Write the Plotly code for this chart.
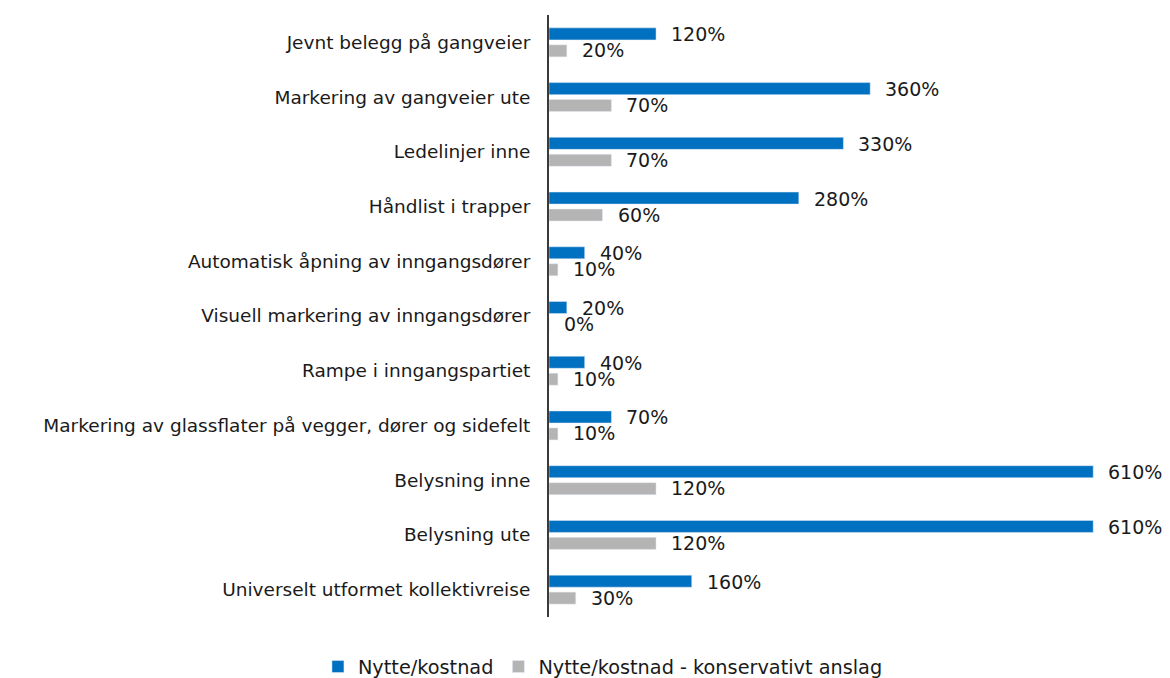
import plotly.graph_objects as go

categories = [
    "Jevnt belegg på gangveier",
    "Markering av gangveier ute",
    "Ledelinjer inne",
    "Håndlist i trapper",
    "Automatisk åpning av inngangsdører",
    "Visuell markering av inngangsdører",
    "Rampe i inngangspartiet",
    "Markering av glassflater på vegger, dører og sidefelt",
    "Belysning inne",
    "Belysning ute",
    "Universelt utformet kollektivreise",
]
nytte = [120, 360, 330, 280, 40, 20, 40, 70, 610, 610, 160]
konservativt = [20, 70, 70, 60, 10, 0, 10, 10, 120, 120, 30]
series_names = ["Nytte/kostnad", "Nytte/kostnad - konservativt anslag"]

BLUE = "#0070C0"
GRAY = "#B4B4B4"
FONT = "DejaVu Sans"
TXT = "#1a1a1a"

fig = go.Figure()
fig.add_trace(go.Bar(y=categories, x=nytte, orientation="h", name=series_names[0],
                     marker=dict(color=BLUE), hoverinfo="x+y"))
fig.add_trace(go.Bar(y=categories, x=konservativt, orientation="h", name=series_names[1],
                     marker=dict(color=GRAY), hoverinfo="x+y"))

for cat, v in zip(categories, nytte):
    fig.add_annotation(x=v, y=cat, text=f"{v}%", showarrow=False, xanchor="left",
                       yanchor="middle", xshift=13, yshift=8,
                       font=dict(family=FONT, size=19, color=TXT))
for cat, v in zip(categories, konservativt):
    fig.add_annotation(x=v, y=cat, text=f"{v}%", showarrow=False, xanchor="left",
                       yanchor="middle", xshift=13, yshift=-8,
                       font=dict(family=FONT, size=19, color=TXT))

fig.update_layout(
    width=1162, height=670,
    margin=dict(l=541, r=50, t=7, b=61, autoexpand=False),
    barmode="group", bargap=0.38, bargroupgap=0.29,
    plot_bgcolor="white", paper_bgcolor="white",
    font=dict(family=FONT, size=18, color=TXT),
    showlegend=True,
    legend=dict(orientation="h", xref="container", yref="container",
                x=0.512, xanchor="center", y=0.0164, yanchor="middle",
                font=dict(family=FONT, size=19.3, color=TXT), traceorder="normal"),
)
fig.update_xaxes(range=[0, 640], showgrid=False, zeroline=False, showticklabels=False,
                 showline=False, ticks="", automargin=False)
fig.update_yaxes(autorange="reversed", showgrid=False, showline=True, linecolor="#3a3a3a",
                 linewidth=2, ticks="", ticklabelstandoff=13, automargin=False,
                 tickfont=dict(family=FONT, size=18.5, color=TXT))

fig.write_html("out.html")
